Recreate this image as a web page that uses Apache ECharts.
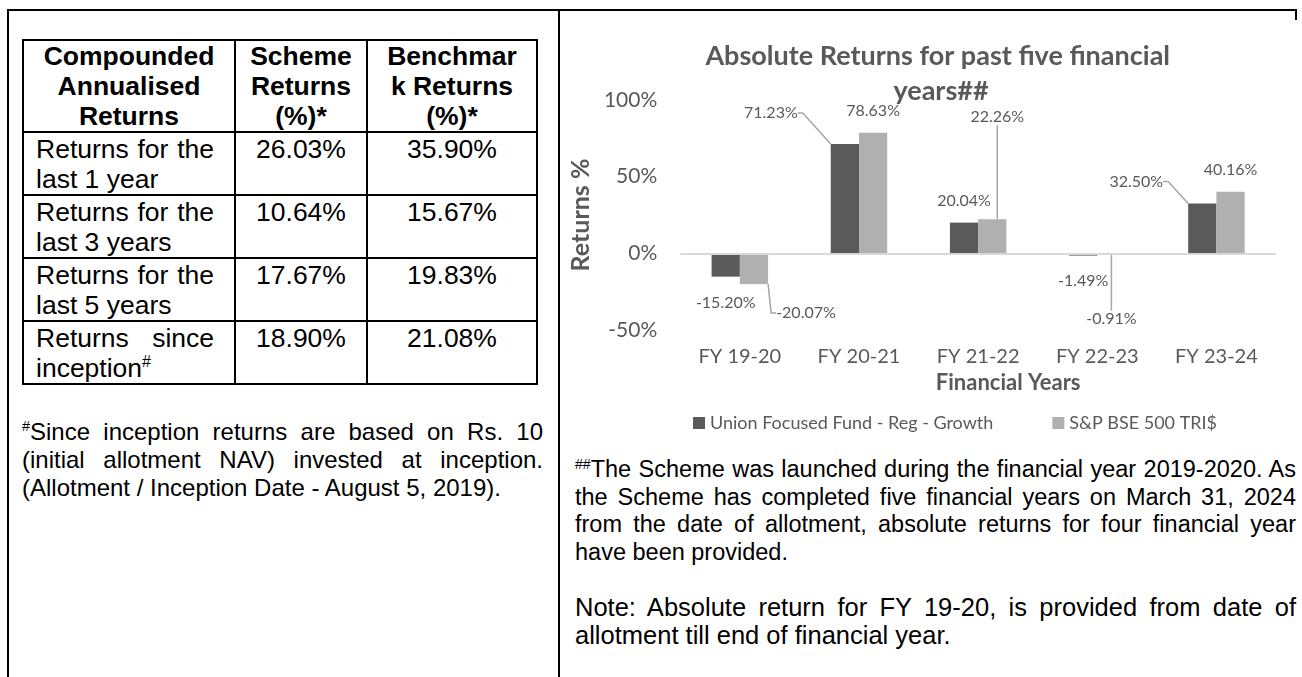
<!DOCTYPE html>
<html><head><meta charset="utf-8">
<script src="https://cdn.jsdelivr.net/npm/echarts@6/dist/echarts.min.js"></script>
<style>
html,body{margin:0;padding:0;background:#fff;}
body{width:1302px;height:677px;position:relative;overflow:hidden;font-family:"Liberation Sans",Arial,sans-serif;color:#000;}
.ln{position:absolute;background:#000;}
table.ret{position:absolute;left:22px;top:39px;width:516px;border-collapse:collapse;table-layout:fixed;font-size:26.5px;line-height:30px;}
table.ret td{border:2px solid #000;vertical-align:top;padding:1px 0 0 0;}
table.ret tr.h td{font-weight:bold;text-align:center;padding-top:0;}
table.ret td.lbl{text-align:justify;padding:1px 20px 0 12px;}
table.ret td.v{text-align:center;}
sup{font-size:0.6em;line-height:0;vertical-align:0.6em;}
.para{position:absolute;}
.para span{display:block;text-align:justify;text-align-last:justify;}
.para span.last{text-align-last:left;}
#chart{position:absolute;left:560px;top:11px;width:736px;height:430px;}
</style>
</head><body>
<div class="ln" style="left:7px;top:9px;width:2px;height:668px"></div>
<div class="ln" style="left:7px;top:9px;width:1290px;height:2px"></div>
<div class="ln" style="left:558px;top:9px;width:2px;height:668px"></div>
<div class="ln" style="left:1295px;top:9px;width:2px;height:11px"></div>

<table class="ret">
<colgroup><col style="width:212px"><col style="width:132px"><col style="width:170px"></colgroup>
<tr class="h" style="height:90px"><td>Compounded<br>Annualised<br>Returns</td><td>Scheme<br>Returns<br>(%)*</td><td>Benchmar<br>k Returns<br>(%)*</td></tr>
<tr style="height:61px"><td class="lbl">Returns for the last 1 year</td><td class="v">26.03%</td><td class="v">35.90%</td></tr>
<tr style="height:61px"><td class="lbl">Returns for the last 3 years</td><td class="v">10.64%</td><td class="v">15.67%</td></tr>
<tr style="height:61px"><td class="lbl">Returns for the last 5 years</td><td class="v">17.67%</td><td class="v">19.83%</td></tr>
<tr style="height:61px"><td class="lbl">Returns since inception<sup>#</sup></td><td class="v">18.90%</td><td class="v">21.08%</td></tr>
</table>

<div class="para" style="left:22px;top:418px;width:521px;font-size:24px;line-height:28px;">
<span><sup>#</sup>Since inception returns are based on Rs. 10</span>
<span>(initial allotment NAV) invested at inception.</span>
<span class="last">(Allotment / Inception Date - August 5, 2019).</span>
</div>

<div class="para" style="left:575px;top:456px;width:721px;font-size:23.5px;line-height:27.5px;">
<span><sup>##</sup>The Scheme was launched during the financial year 2019-2020. As</span>
<span>the Scheme has completed five financial years on March 31, 2024</span>
<span>from the date of allotment, absolute returns for four financial year</span>
<span class="last">have been provided.</span>
</div>
<div class="para" style="left:575px;top:593px;width:721px;font-size:25.5px;line-height:28px;">
<span>Note: Absolute return for FY 19-20, is provided from date of</span>
<span class="last">allotment till end of financial year.</span>
</div>

<div id="chart"></div>
<script>
// ---- data ----
const categories = ['FY 19-20', 'FY 20-21', 'FY 21-22', 'FY 22-23', 'FY 23-24'];
const fundReturns = [-15.20, 71.23, 20.04, -1.49, 32.50];
const benchReturns = [-20.07, 78.63, 22.26, -0.91, 40.16];
const yTicks = [-50, 0, 50, 100];
const seriesNames = ['Union Focused Fund - Reg - Growth', 'S&P BSE 500 TRI$'];

// ---- styling (label shifts in px, leader line flags) ----
const fundLabelShift = [[0, 4], [-74, -9], [0, 0], [0, 3], [-66, 0]];
const benchLabelShift = [[52, 7], [0, 0], [5, -80], [0, 42], [0, 0]];
const fundLeader = [false, true, false, false, true];
const benchLeader = [true, false, true, true, false];

const FONT = 'Lato';
const GREY = '#595959';

function items(values, leaders) {
  return values.map((v, i) => ({
    value: v,
    label: { position: v < 0 ? 'bottom' : 'top' },
    labelLine: { show: leaders[i] }
  }));
}

function makeSeries(name, values, color, shifts, leaders) {
  return {
    name: name,
    type: 'bar',
    data: items(values, leaders),
    barWidth: '23.7%',
    barGap: '0%',
    itemStyle: { color: color },
    label: {
      show: true,
      distance: 14,
      color: GREY,
      fontFamily: FONT,
      fontSize: 16,
      formatter: p => p.value.toFixed(2) + '%'
    },
    labelLine: { show: true, length2: 5, lineStyle: { color: '#a6a6a6', width: 1.5 } },
    labelLayout: p => ({ dx: shifts[p.dataIndex][0], dy: shifts[p.dataIndex][1] })
  };
}

const chart = echarts.init(document.getElementById('chart'));
const s0 = makeSeries(seriesNames[0], fundReturns, '#5a5a5a', fundLabelShift, fundLeader);
s0.markLine = {
  silent: true, symbol: 'none', label: { show: false },
  lineStyle: { color: '#d9d9d9', width: 2, type: 'solid' },
  data: [{ yAxis: 0 }]
};
const s1 = makeSeries(seriesNames[1], benchReturns, '#b0b0b0', benchLabelShift, benchLeader);

chart.setOption({
  animation: false,
  title: {
    text: 'Absolute Returns for past five financial years##',
    left: 376, top: 23, textAlign: 'center',
    textStyle: { fontFamily: FONT, fontSize: 27, fontWeight: 'bold', color: GREY, width: 500, overflow: 'break', lineHeight: 35 }
  },
  legend: {
    data: seriesNames,
    left: 128, top: 398,
    icon: 'rect', itemWidth: 12, itemHeight: 12, itemGap: 59,
    textStyle: { fontFamily: FONT, fontSize: 18, color: GREY }
  },
  grid: { left: 115, right: 20, top: 89, bottom: 111 },
  xAxis: {
    type: 'category',
    data: categories,
    axisLine: { show: false },
    axisTick: { show: false },
    axisLabel: { fontFamily: FONT, fontSize: 20, color: GREY, margin: 17 },
    name: 'Financial Years',
    nameLocation: 'middle',
    nameGap: 40,
    nameTextStyle: { fontFamily: FONT, fontSize: 22, fontWeight: 'bold', color: GREY, padding: [0, 0, 0, 60] }
  },
  yAxis: {
    type: 'value',
    min: yTicks[0], max: yTicks[yTicks.length - 1], interval: 50,
    axisLine: { show: false }, axisTick: { show: false }, splitLine: { show: false },
    axisLabel: { fontFamily: FONT, fontSize: 21, color: GREY, margin: 23, formatter: v => v + '%' },
    name: 'Returns %',
    nameLocation: 'middle',
    nameGap: 68,
    nameTextStyle: { fontFamily: FONT, fontSize: 25, fontWeight: 'bold', color: GREY }
  },
  series: [s0, s1]
});
</script>
</body></html>
